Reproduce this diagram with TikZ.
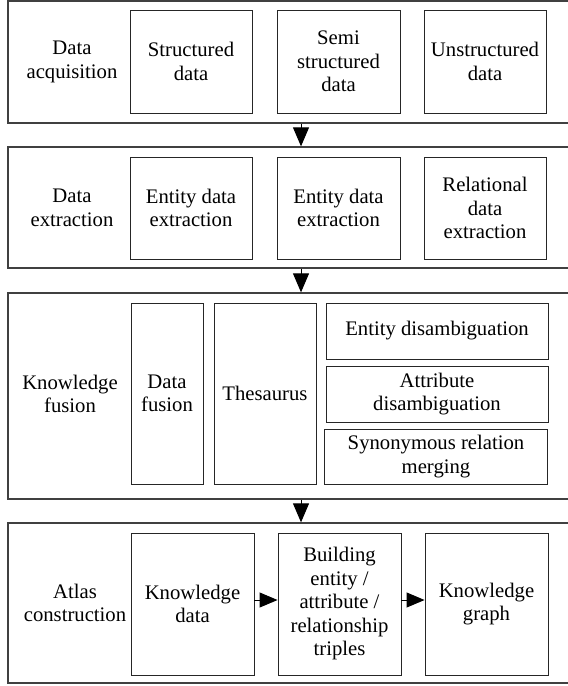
\documentclass[tikz,border=0pt]{standalone}
\usepackage{fontspec}
\setmainfont{Liberation Serif}
\usetikzlibrary{arrows.meta}
\begin{document}
\begin{tikzpicture}[x=1pt,y=-1pt,
  panel/.style={draw=black!75,line width=1.3pt,inner sep=0pt},
  ibox/.style={draw=black!85,line width=0.9pt,inner sep=0pt,align=center,
    font=\fontsize{20.7}{23.5}\selectfont},
  lbl/.style={inner sep=0pt,align=center,font=\fontsize{20.7}{23.5}\selectfont},
  arr/.style={line width=1pt,-{Triangle[length=19pt,width=16pt]}},
  harr/.style={line width=1pt,-{Triangle[length=18pt,width=15pt]}}]
\useasboundingbox (0,0) rectangle (568,686);
\begin{scope}
\clip (0,0) rectangle (568,686);
% panels
\node[panel,minimum width=567pt,minimum height=122pt] (p1) at (291.5,62) {};
\node[panel,minimum width=567pt,minimum height=121pt] (p2) at (291.5,207.5) {};
\node[panel,minimum width=567pt,minimum height=206pt] (p3) at (291.5,396) {};
\node[panel,minimum width=567pt,minimum height=160pt] (p4) at (291.5,603) {};
\end{scope}
% labels
\node[lbl] (l1) at (72,62) {Data\\acquisition};
\node[lbl] (l2) at (72,208) {Data\\extraction};
\node[lbl] (l3) at (70,394) {Knowledge\\fusion};
\node[lbl] (l4) at (75,603) {Atlas\\construction};
% panel 1
\node[ibox,minimum width=122pt,minimum height=103pt] (a1) at (191,61.5) {Structured\\data};
\node[ibox,minimum width=123pt,minimum height=103pt] (a2) at (338.5,61.5) {Semi\\structured\\data};
\node[ibox,minimum width=122pt,minimum height=103pt] (a3) at (485,61.5) {Unstructured\\data};
% panel 2
\node[ibox,minimum width=122pt,minimum height=102pt] (b1) at (191,208) {Entity data\\extraction};
\node[ibox,minimum width=123pt,minimum height=102pt] (b2) at (338.5,208) {Entity data\\extraction};
\node[ibox,minimum width=122pt,minimum height=102pt] (b3) at (485,208) {Relational\\data\\extraction};
% panel 3
\node[ibox,minimum width=72pt,minimum height=181pt] (c1) at (167,393.5) {Data\\fusion};
\node[ibox,minimum width=102pt,minimum height=181pt] (c2) at (265,393.5) {Thesaurus};
\node[ibox,minimum width=222pt,minimum height=56pt] (c3) at (437,331) {Entity disambiguation};
\node[ibox,minimum width=222pt,minimum height=56pt] (c4) at (437,394) {Attribute\\disambiguation};
\node[ibox,minimum width=223pt,minimum height=55pt] (c5) at (436,456.5) {Synonymous relation\\merging};
% panel 4
\node[ibox,minimum width=123pt,minimum height=142pt] (d1) at (192.5,604) {Knowledge\\data};
\node[ibox,minimum width=123pt,minimum height=142pt] (d2) at (339.5,604) {Building\\entity /\\attribute /\\relationship\\triples};
\node[ibox,minimum width=123pt,minimum height=142pt] (d3) at (486.5,604) {Knowledge\\graph};
% arrows
\coordinate (ax) at (301,0);
\draw[arr] (p1.south -| ax) -- (p2.north -| ax);
\draw[arr] (p2.south -| ax) -- (p3.north -| ax);
\draw[arr] (p3.south -| ax) -- (p4.north -| ax);
\draw[harr] ([yshift=4pt]d1.east) -- ([yshift=4pt]d2.west);
\draw[harr] ([yshift=4pt]d2.east) -- ([yshift=4pt]d3.west);
\end{tikzpicture}
\end{document}
